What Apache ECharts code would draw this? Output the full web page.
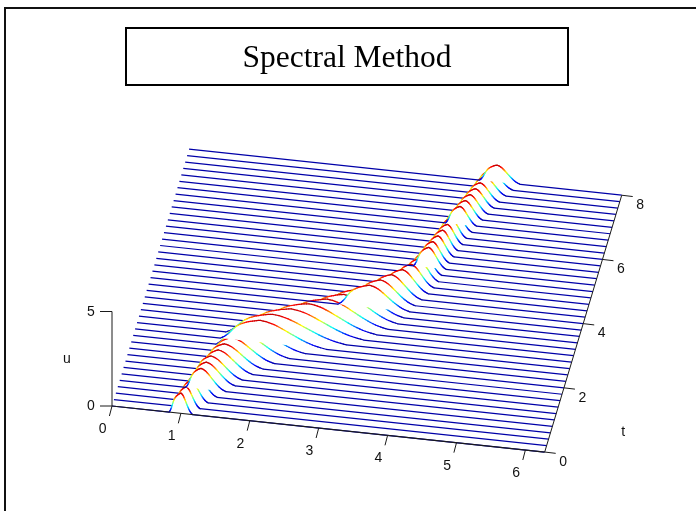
<!DOCTYPE html>
<html>
<head>
<meta charset="utf-8">
<style>html,body{margin:0;padding:0;background:#fff}#c{width:696px;height:511px}</style>
<script src="https://cdn.jsdelivr.net/npm/echarts@6/dist/echarts.min.js"></script>
</head>
<body>
<div id="c"></div>
<script>
const titleText = 'Spectral Method';
const xTicks = [0, 1, 2, 3, 4, 5, 6];
const tTicks = [0, 2, 4, 6, 8];
const uTicks = [0, 5];
const xMax = 6.28;
const tValues = [0,0.2,0.4,0.6,0.8,1,1.2,1.4,1.6,1.8,2,2.2,2.4,2.6,2.8,3,3.2,3.4,3.6,3.8,4,4.2,4.4,4.6,4.8,5,5.2,5.4,5.6,5.8,6,6.2,6.4,6.6,6.8,7,7.2,7.4,7.6,7.8,8];
// crest position along x for each t
const crestX = [1.00,1.05,1.09,1.14,1.18,1.23,1.27,1.35,1.41,1.49,1.58,1.68,1.82,1.97,2.21,2.44,2.68,2.89,3.05,3.21,3.34,3.47,3.60,3.70,3.78,3.83,3.87,3.90,3.95,3.99,4.03,4.06,4.10,4.13,4.18,4.22,4.27,4.31,4.36,4.41,4.47];
// crest height u for each t
const crestU = [1.07,1.08,1.08,1.09,1.09,1.10,1.10,1.11,1.12,1.14,1.15,1.16,1.16,1.20,1.24,1.26,1.26,1.25,1.22,1.18,1.17,1.16,1.14,1.12,1.10,1.08,1.06,1.04,1.02,1.00,0.98,0.97,0.96,0.95,0.94,0.93,0.92,0.91,0.90,0.90,0.89];
// distance from crest to foot on the far (right) side
const rightWidth = [0.17,0.20,0.25,0.30,0.36,0.42,0.46,0.50,0.56,0.62,0.72,0.82,0.95,1.07,1.05,0.98,0.88,0.78,0.68,0.58,0.50,0.44,0.38,0.33,0.29,0.26,0.25,0.24,0.23,0.22,0.22,0.22,0.23,0.24,0.25,0.26,0.27,0.28,0.30,0.32,0.34];
// distance from crest to foot on the near (left) side
const leftWidth = [0.17,0.18,0.19,0.20,0.22,0.24,0.26,0.28,0.31,0.34,0.40,0.48,0.58,0.68,0.72,0.72,0.68,0.60,0.52,0.46,0.40,0.36,0.32,0.28,0.25,0.23,0.22,0.21,0.21,0.21,0.21,0.21,0.21,0.21,0.21,0.21,0.22,0.22,0.23,0.24,0.25];
const bumpRight = [1,0.96,0.88,0.76,0.62,0.48,0.34,0.22,0.12,0.05,0];
const bumpLeft = [1,0.97,0.93,0.88,0.82,0.74,0.62,0.45,0.25,0.10,0];
// lines that in the reference paint over the three nearer lines just in front of them
const overpaintLines = [4,12,19,26,33,40];
const jetColors = ['#0000a8','#0000ff','#007fff','#00ffff','#7fff7f','#ffff00','#ff7f00','#ff0000','#c00000'];

// view of the 3D box in chart units
const view = {ox:112, oy:406, xx:68.9, xy:7.33, tx:9.63, ty:-32.1, uy:-18.9};
const project = (x,t,u) => [view.ox + view.xx*x + view.tx*t, view.oy + view.xy*x + view.ty*t + view.uy*u];

function shape(tbl,s){
  if (s >= 1) return 0;
  const p = s*(tbl.length-1), i = Math.floor(p);
  return tbl[i] + (tbl[i+1]-tbl[i])*(p-i);
}
function lineSamples(i){
  const c = crestX[i], A = crestU[i], wr = rightWidth[i], wl = leftWidth[i], out = [];
  const xs = [0, xMax];
  const nL = 20, nR = 24;
  for (let k=0;k<=nL;k++) xs.push(c - wl*(1-k/nL));
  for (let k=1;k<=nR;k++) xs.push(c + wr*k/nR);
  xs.sort((a,b)=>a-b);
  xs.forEach(x=>{
    const d = x-c;
    const lvl = d<0 ? shape(bumpLeft,-d/wl) : shape(bumpRight,d/wr);
    out.push([x, A*lvl, lvl]);
  });
  return out;
}

function renderWave(params, api){
  const i = api.value(0), t = tValues[i];
  const samples = lineSamples(i);
  const pts = samples.map(s => api.coord(project(s[0],t,s[1])));
  const children = [{type:'polygon', shape:{points:pts}, style:{fill:'#fff', stroke:null}, silent:true}];
  let flat = [pts[0]];
  const flatStyle = {stroke:jetColors[0],lineWidth:1.25,fill:null};
  for (let k=1;k<pts.length;k++){
    const lvl = (samples[k][2]+samples[k-1][2])/2;
    if (lvl < 0.004){ flat.push(pts[k]); continue; }
    if (flat.length>1) children.push({type:'polyline',shape:{points:flat},style:flatStyle});
    flat=[pts[k]];
    children.push({type:'line',shape:{x1:pts[k-1][0],y1:pts[k-1][1],x2:pts[k][0],y2:pts[k][1]},
      style:{stroke:echarts.color.lerp(lvl,jetColors),lineWidth:1.25,lineCap:'round'}});
  }
  if (flat.length>1) children.push({type:'polyline',shape:{points:flat},style:flatStyle});
  return {type:'group',children};
}

function segment(api,a,b,w){
  const p=api.coord(a), q=api.coord(b);
  return {type:'line',shape:{x1:p[0],y1:p[1],x2:q[0],y2:q[1]},style:{stroke:'#1a1a1a',lineWidth:w||1}};
}
function label(api,pos,dx,dy,txt){
  const p=api.coord(pos);
  return {type:'text',style:{x:p[0]+dx,y:p[1]+dy,text:String(txt),fill:'#111',font:'14px "Liberation Sans"',align:'center',verticalAlign:'middle'}};
}
function renderAxes(params, api){
  const ch=[];
  ch.push(segment(api,project(0,0,0),project(xMax,0,0),1.2));
  ch.push(segment(api,project(xMax,0,0),project(xMax,8,0),1));
  ch.push(segment(api,project(0,0,0),project(0,0,5),1));
  xTicks.forEach(v=>{
    const p=project(v,0,0);
    ch.push(segment(api,p,[p[0]-2.6,p[1]+10]));
    ch.push(label(api,p,-9.3,23,v));
  });
  tTicks.forEach(v=>{
    const p=project(xMax,v,0);
    ch.push(segment(api,p,[p[0]+11,p[1]+1.3]));
    ch.push(label(api,p,18.5,10,v));
  });
  uTicks.forEach(v=>{
    const p=project(0,0,v);
    ch.push(segment(api,p,[p[0]-12,p[1]]));
    ch.push(label(api,p,-21,0.5,v));
  });
  ch.push(label(api,project(0,0,2.5),-45,0,'u'));
  ch.push(label(api,project(xMax,0,0),78.5,-20,'t'));
  return {type:'group',children:ch};
}

// paint order, far to near
const paintOrder = [];
for (let i=tValues.length-1;i>=0;i--){
  if (paintOrder.includes(i)) continue;
  if (overpaintLines.includes(i)) { [i-1,i-2,i-3].forEach(k=>paintOrder.push(k)); }
  paintOrder.push(i);
}

const chart = echarts.init(document.getElementById('c'),null,{renderer:'canvas'});
chart.setOption({
  animation:false,
  backgroundColor:'#fff',
  title:{text:titleText,left:347,top:43,textAlign:'center',padding:0,
    textStyle:{fontFamily:'"Liberation Serif"',fontSize:31.5,fontWeight:'normal',color:'#000'}},
  graphic:[
    {type:'line',shape:{x1:5,y1:8,x2:5,y2:511},style:{stroke:'#111',lineWidth:2},z:5},
    {type:'line',shape:{x1:4,y1:8,x2:696,y2:8},style:{stroke:'#111',lineWidth:2},z:5},
    {type:'rect',shape:{x:126,y:28,width:442,height:57},style:{fill:'none',stroke:'#000',lineWidth:2},z:5}
  ],
  grid:{left:0,top:0,right:0,bottom:0},
  xAxis:{type:'value',min:0,max:696,show:false},
  yAxis:{type:'value',min:0,max:511,inverse:true,show:false},
  tooltip:{show:false},
  series:[
    {type:'custom',coordinateSystem:'cartesian2d',silent:true,clip:false,z:2,
     data:paintOrder.map(i=>[i]),
     encode:{x:[],y:[]},renderItem:renderWave},
    {type:'custom',coordinateSystem:'cartesian2d',silent:true,clip:false,z:3,
     data:[[0]],encode:{x:[],y:[]},renderItem:renderAxes}
  ]
});
</script>
</body>
</html>
